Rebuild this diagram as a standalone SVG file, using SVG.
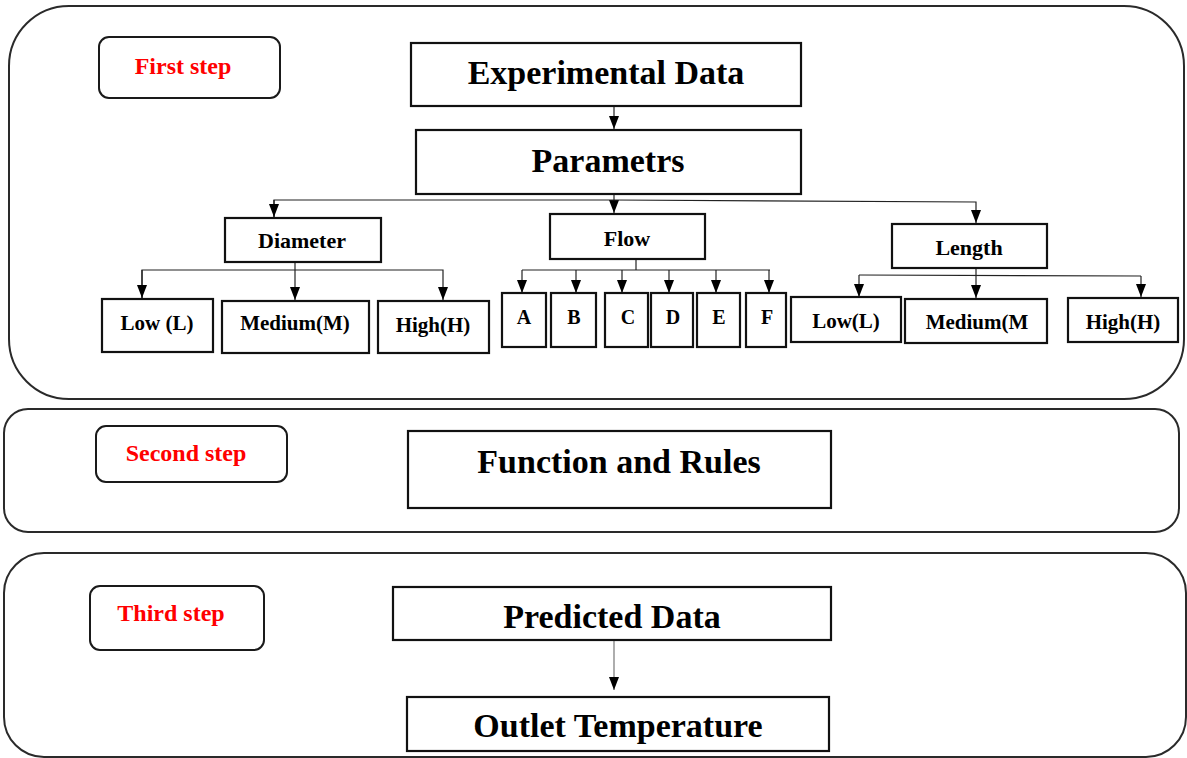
<svg xmlns="http://www.w3.org/2000/svg" width="1187" height="758" viewBox="0 0 1187 758">
<defs>
<marker id="arr" viewBox="0 0 13 10" refX="13" refY="5" markerWidth="13" markerHeight="10" markerUnits="userSpaceOnUse" orient="auto">
<path d="M0,0 L13,5 L0,10 z" fill="#000"/>
</marker>
<style>
.panel{fill:#fff;stroke:#2a2a2a;stroke-width:2}
.step{fill:#fff;stroke:#1a1a1a;stroke-width:2}
.box{fill:#fff;stroke:#111;stroke-width:2.2}
.t{font-family:"Liberation Serif","Times New Roman",serif;font-weight:bold;fill:#000;text-anchor:middle}
.red{font-family:"Liberation Serif","Times New Roman",serif;font-weight:bold;fill:#ff0000;text-anchor:middle;font-size:24px}
.big{font-size:34px}
.mid{font-size:22px}
.sm{font-size:21px}
.xs{font-size:20px}
.c{fill:none;stroke:#222;stroke-width:1.2}
.cg{fill:none;stroke:#777;stroke-width:1.2}
</style>
</defs>
<rect width="1187" height="758" fill="#fff"/>
<g id="panels">
<rect id="panel1" class="panel" x="9" y="6" width="1175" height="393" rx="60" ry="60"/>
<rect id="panel2" class="panel" x="4" y="409" width="1175" height="123" rx="24" ry="24"/>
<rect id="panel3" class="panel" x="4" y="553" width="1182" height="204" rx="40" ry="40"/>
</g>
<g id="connectors">
<path class="c" d="M614,106 L614,129" marker-end="url(#arr)"/>
<path class="c" d="M614,194 L614,213"  marker-end="url(#arr)"/>
<path class="c" d="M274,217 L274,200 L614,200 L976,202 L976,223" marker-end="url(#arr)"/>
<path class="c" d="M274,200 L274,217" marker-end="url(#arr)"/>
<path class="c" d="M295,262 L295,300" marker-end="url(#arr)"/>
<path class="c" d="M142,298 L142,270 L443,270 L443,300" marker-end="url(#arr)"/>
<path class="c" d="M142,270 L142,298" marker-end="url(#arr)"/>
<path class="c" d="M636,259 L636,270"/>
<path class="c" d="M522,270 L770,270"/>
<path class="c" d="M522,270 L522,293" marker-end="url(#arr)"/>
<path class="c" d="M576,270 L576,293" marker-end="url(#arr)"/>
<path class="c" d="M622,270 L622,293" marker-end="url(#arr)"/>
<path class="c" d="M669,270 L669,293" marker-end="url(#arr)"/>
<path class="c" d="M716,270 L716,293" marker-end="url(#arr)"/>
<path class="c" d="M769,270 L769,293" marker-end="url(#arr)"/>
<path class="c" d="M976,268 L976,298" marker-end="url(#arr)"/>
<path class="c" d="M859,275 L1141,276"/>
<path class="c" d="M859,275 L859,297" marker-end="url(#arr)"/>
<path class="c" d="M1141,276 L1141,297" marker-end="url(#arr)"/>
<path class="cg" d="M614,640 L614,690" marker-end="url(#arr)"/>
</g>
<g id="first-step">
<rect class="step" x="99" y="37" width="181" height="61" rx="10"/>
<text class="red" x="183" y="74">First step</text>
</g>
<g id="second-step">
<rect class="step" x="96" y="426" width="191" height="56" rx="10"/>
<text class="red" x="186" y="461">Second step</text>
</g>
<g id="third-step">
<rect class="step" x="90" y="586" width="174" height="64" rx="10"/>
<text class="red" x="171" y="621">Third step</text>
</g>
<g id="experimental-data">
<rect class="box" x="411" y="43" width="390" height="63"/>
<text class="t big" x="606" y="84">Experimental Data</text>
</g>
<g id="parametrs">
<rect class="box" x="416" y="130" width="385" height="64"/>
<text class="t big" x="608" y="172">Parametrs</text>
</g>
<g id="diameter">
<rect class="box" x="225" y="218" width="156" height="44"/>
<text class="t mid" x="302" y="248">Diameter</text>
</g>
<g id="flow">
<rect class="box" x="550" y="214" width="155" height="45"/>
<text class="t mid" x="627" y="246">Flow</text>
</g>
<g id="length">
<rect class="box" x="892" y="224" width="155" height="44"/>
<text class="t mid" x="969" y="255">Length</text>
</g>
<g id="d-low">
<rect class="box" x="102" y="299" width="111" height="53"/>
<text class="t sm" x="157" y="330">Low (L)</text>
</g>
<g id="d-medium">
<rect class="box" x="222" y="301" width="147" height="52"/>
<text class="t sm" x="295" y="330">Medium(M)</text>
</g>
<g id="d-high">
<rect class="box" x="378" y="301" width="111" height="52"/>
<text class="t sm" x="433" y="332">High(H)</text>
</g>
<g id="f-a">
<rect class="box" x="502" y="293" width="44" height="54"/>
<text class="t xs" x="524" y="324">A</text>
</g>
<g id="f-b">
<rect class="box" x="551" y="293" width="45" height="54"/>
<text class="t xs" x="574" y="324">B</text>
</g>
<g id="f-c">
<rect class="box" x="605" y="293" width="43" height="54"/>
<text class="t xs" x="628" y="324">C</text>
</g>
<g id="f-d">
<rect class="box" x="651" y="293" width="42" height="54"/>
<text class="t xs" x="673" y="324">D</text>
</g>
<g id="f-e">
<rect class="box" x="697" y="293" width="43" height="54"/>
<text class="t xs" x="719" y="324">E</text>
</g>
<g id="f-f">
<rect class="box" x="746" y="293" width="40" height="54"/>
<text class="t xs" x="767" y="324">F</text>
</g>
<g id="l-low">
<rect class="box" x="791" y="297" width="110" height="45"/>
<text class="t sm" x="846" y="328">Low(L)</text>
</g>
<g id="l-medium">
<rect class="box" x="905" y="299" width="142" height="44"/>
<text class="t sm" x="977" y="329">Medium(M</text>
</g>
<g id="l-high">
<rect class="box" x="1068" y="298" width="110" height="44"/>
<text class="t sm" x="1123" y="329">High(H)</text>
</g>
<g id="function-rules">
<rect class="box" x="408" y="431" width="423" height="77"/>
<text class="t big" x="619" y="473">Function and Rules</text>
</g>
<g id="predicted-data">
<rect class="box" x="393" y="587" width="438" height="53"/>
<text class="t big" x="612" y="628">Predicted Data</text>
</g>
<g id="outlet-temperature">
<rect class="box" x="407" y="697" width="422" height="54"/>
<text class="t big" x="618" y="737">Outlet Temperature</text>
</g>
</svg>
